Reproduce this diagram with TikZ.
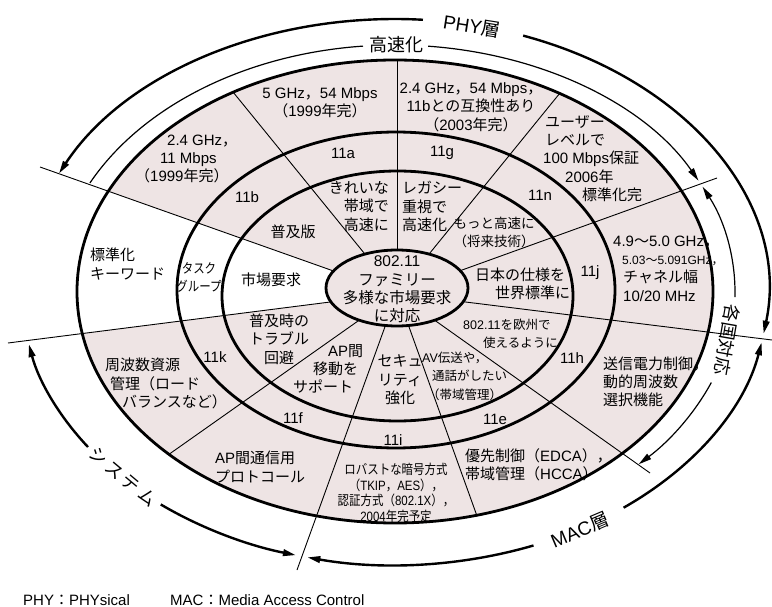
\documentclass[tikz,border=0pt]{standalone}
\usepackage{fontspec}
\usepackage{graphicx}
\usetikzlibrary{arrows.meta}
\setmainfont{Noto Sans CJK JP}
\newfontfamily\latinf{Liberation Sans}
\newfontfamily\cjkf{Noto Sans CJK JP}
\newfontfamily\latincf[FakeStretch=0.85]{Liberation Sans}
\newfontfamily\cjkcf[FakeStretch=0.85]{Noto Sans CJK JP}
\def\curcjk{\cjkf}
\def\curlatin{\latinf}
\newcount\mycnt
\mycnt="3000 \loop\ifnum\mycnt<"3100 \XeTeXcharclass\mycnt=1 \advance\mycnt by 1 \repeat
\mycnt="3400 \loop\ifnum\mycnt<"A000 \XeTeXcharclass\mycnt=1 \advance\mycnt by 1 \repeat
\mycnt="FF00 \loop\ifnum\mycnt<"FFF0 \XeTeXcharclass\mycnt=1 \advance\mycnt by 1 \repeat
\XeTeXinterchartokenstate=1
\XeTeXinterchartoks 0 1 = {\curcjk}
\XeTeXinterchartoks 0 2 = {\curcjk}
\XeTeXinterchartoks 0 3 = {\curcjk}
\XeTeXinterchartoks 4095 1 = {\curcjk}
\XeTeXinterchartoks 4095 2 = {\curcjk}
\XeTeXinterchartoks 4095 3 = {\curcjk}
\XeTeXinterchartoks 1 0 = {\curlatin}
\XeTeXinterchartoks 2 0 = {\curlatin}
\XeTeXinterchartoks 3 0 = {\curlatin}
\XeTeXinterchartoks 4095 0 = {\curlatin}
\definecolor{pinkbg}{RGB}{238,228,228}
\tikzset{
  divider/.style={line width=0.9pt},
  ring/.style={line width=2.8pt},
  bigarc/.style={line width=2.4pt},
  thinarc/.style={line width=1.2pt},
  lbl/.style={inner sep=0pt, font=\fontsize{15}{18.3}\selectfont},
  smlbl/.style={inner sep=0pt, font=\fontsize{12.5}{18.5}\selectfont},
  condlbl/.style={inner sep=0pt, font=\def\curcjk{\cjkcf}\def\curlatin{\latincf}\fontsize{13.5}{15.7}\selectfont},
  outlbl/.style={inner sep=0pt, font=\fontsize{18}{20}\selectfont},
}
\begin{document}
\begin{tikzpicture}[x=1pt,y=-1pt,line join=round,>={Triangle[length=13pt,width=6.5pt]}]
\useasboundingbox (0,0) rectangle (772,607);
\fill[white] (0,0) rectangle (772,607);
% centres
\coordinate (C) at (397,293.5);
\coordinate (R3c) at (395,291.5);
\coordinate (R2c) at (396,290);
\coordinate (R1c) at (397.5,296);
\coordinate (E0c) at (397,288);
\coordinate (O) at (395,292);
% outer ends of the sector lines
\coordinate (p1) at (40,167);
\coordinate (p2) at (8,343);
\coordinate (p3) at (233,92);
\coordinate (p4) at (397,60);
\coordinate (p5) at (560,93);
\coordinate (p6) at (717,178);
\coordinate (p7) at (772,340);
\coordinate (p8) at (650,473);
\coordinate (p9) at (477,516);
\coordinate (p10) at (297,570);
\coordinate (p11) at (168,455);
% fills
\fill[pinkbg] (R3c) ellipse [x radius=318pt, y radius=231.5pt];
\fill[white] (C) -- (p1) -- (p2) -- cycle;
\foreach \p in {p1,p2,p3,p4,p5,p6,p7,p8,p9,p10,p11} \draw[divider] (C) -- (\p);
\draw[ring] (R1c) ellipse [x radius=175.5pt, y radius=125pt];
\draw[ring] (R2c) ellipse [x radius=219pt, y radius=158pt];
\draw[ring] (R3c) ellipse [x radius=318pt, y radius=231.5pt];
\draw[ring, fill=pinkbg] (E0c) ellipse [x radius=71pt, y radius=38pt];
% outer thick arcs: PHY
\draw[bigarc,<-] (O) ++(154.3:373pt and 273pt) arc[start angle=154.3, end angle=85.7, x radius=373pt, y radius=273pt];
\draw[bigarc,->] (O) ++(69.9:373pt and 273pt) arc[start angle=69.9, end angle=-8.8, x radius=373pt, y radius=273pt];
% MAC
\draw[bigarc,<-] (O) ++(-10.6:373pt and 273pt) arc[start angle=-10.6, end angle=-52.2, x radius=373pt, y radius=273pt];
\draw[bigarc,->] (O) ++(-68.2:373pt and 273pt) arc[start angle=-68.2, end angle=-103.6, x radius=373pt, y radius=273pt];
% system
\draw[bigarc,<-] (O) ++(191:373pt and 273pt) arc[start angle=191, end angle=214.6, x radius=373pt, y radius=273pt];
\draw[bigarc,->] (O) ++(231.1:373pt and 273pt) arc[start angle=231.1, end angle=254.6, x radius=373pt, y radius=273pt];
% thin arcs: koosokuka
\draw[thinarc] (O) ++(153.8:340pt and 247pt) arc[start angle=153.8, end angle=95.4, x radius=340pt, y radius=247pt];
\draw[thinarc,->] (O) ++(84.4:340pt and 247pt) arc[start angle=84.4, end angle=26.8, x radius=340pt, y radius=247pt];
% kakkoku taiou
\draw[thinarc,<-] (O) ++(25.2:340pt and 247pt) arc[start angle=25.2, end angle=-1.2, x radius=340pt, y radius=247pt];
\draw[thinarc,->] (O) ++(-21.5:340pt and 247pt) arc[start angle=-21.5, end angle=-44.2, x radius=340pt, y radius=247pt];
% outer labels
\node[outlbl, font=\fontsize{19}{20}\selectfont, rotate=-9] (phy) at (472,26) {PHY層};
\node[outlbl] (kousoku) at (396,45) {高速化};
\node[outlbl, rotate=-100] (kakkoku) at (727,340) {各国対応};
\node[outlbl, rotate=-40] (system) at (123,477) {シ\hspace{3pt}ス\hspace{3pt}テ\hspace{3pt}ム};
\node[outlbl, font=\fontsize{19}{20}\selectfont, rotate=23] (mac) at (580,530) {MAC層};
% ring 3 texts
\node[lbl, anchor=west, align=left] (t11b) at (135,159) {\hspace*{32pt}2.4 GHz，\\\hspace*{25pt}11 Mbps\\（1999年完）};
\node[lbl, align=center] (t11a) at (320,103) {5 GHz，54 Mbps\\（1999年完）};
\node[lbl, align=center] (t11g) at (471,107) {2.4 GHz，54 Mbps，\\11bとの互換性あり\\（2003年完）};
\node[lbl, anchor=west, align=left] (t11n) at (543,158.5) {\hspace*{2pt}ユーザー\\\hspace*{2pt}レベルで\\100 Mbps保証\\\hspace*{22pt}2006年\\\hspace*{39pt}標準化完};
\node[lbl, anchor=west, align=left] (t11j) at (613,268.5) {4.9～5.0 GHz，\\\hspace*{9pt}{\fontsize{12}{18.3}\selectfont 5.03～5.091GHz，}\\\hspace*{10pt}チャネル幅\\\hspace*{10pt}10/20 MHz};
\node[lbl, anchor=west, align=left] (t11h) at (603,382) {送信電力制御，\\動的周波数\\選択機能};
\node[lbl, anchor=west, align=left] (t11e) at (465,464.5) {優先制御（EDCA），\\帯域管理（HCCA）};
\node[condlbl, align=center] (t11i) at (396,493) {ロバストな暗号方式\\（TKIP，AES），\\認証方式（802.1X），\\2004年完予定};
\node[lbl, anchor=west, align=left] (t11f) at (215,467) {AP間通信用\\プロトコール};
\node[lbl, anchor=west, align=left] (t11k) at (105,383.5) {周波数資源\\\hspace*{5pt}管理（ロード\\\hspace*{17pt}バランスなど）};
\node[lbl, anchor=west, align=left] (kw) at (90,264) {標準化\\キーワード};
% ring 2 labels
\node[lbl] (n11b) at (247,197) {11b};
\node[lbl] (n11a) at (343,153) {11a};
\node[lbl] (n11g) at (442,153) {11g};
\node[lbl] (n11n) at (540,195) {11n};
\node[lbl] (n11j) at (590,273) {11j};
\node[lbl] (n11h) at (572,358) {11h};
\node[lbl] (n11e) at (495,419) {11e};
\node[lbl] (n11i) at (393,440) {11i};
\node[lbl] (n11f) at (293,418) {11f};
\node[lbl] (n11k) at (215,357) {11k};
\node[condlbl, font=\def\curcjk{\cjkcf}\fontsize{13.5}{18}\selectfont, align=center] (tg) at (199,277) {タスク\\グループ};
% ring 1 texts
\node[lbl] (m11b) at (293,232) {普及版};
\node[lbl, anchor=east, align=right] (m11a) at (389,206.5) {きれいな\\帯域で\\高速に};
\node[lbl, anchor=west, align=left] (m11g) at (402,206.5) {レガシー\\重視で\\高速化};
\node[lbl, font=\fontsize{13.5}{18.5}\selectfont, align=center] (m11n) at (494,232.5) {もっと高速に\\（将来技術）};
\node[lbl, anchor=west, align=left] (m11j) at (475,284) {日本の仕様を\\\hspace*{20pt}世界標準に};
\node[smlbl, anchor=west, align=left] (m11h) at (463,334) {802.11を欧州で\\\hspace*{20pt}使えるように};
\node[smlbl, anchor=west, align=left] (m11e) at (422,376) {AV伝送や，\\\hspace*{10pt}通話がしたい\\\hspace*{5pt}（帯域管理）};
\node[lbl, align=center] (m11i) at (400,380) {セキュ\\リティ\\強化};
\node[lbl, anchor=west, align=left] (m11f) at (293,369) {\hspace*{35pt}AP間\\\hspace*{20pt}移動を\\サポート};
\node[lbl, align=center] (m11k) at (279,339) {普及時の\\トラブル\\回避};
\node[lbl] (mkt) at (271,280) {市場要求};
% centre
\node[lbl, font=\fontsize{15.5}{18.3}\selectfont, align=center] (fam) at (397,289.5) {802.11\\ファミリー\\多様な市場要求\\に対応};
% legend
\node[lbl, anchor=west] (legphy) at (23,600) {PHY：PHYsical};
\node[lbl, anchor=west] (legmac) at (170,600) {MAC：Media Access Control};
\end{tikzpicture}
\end{document}
